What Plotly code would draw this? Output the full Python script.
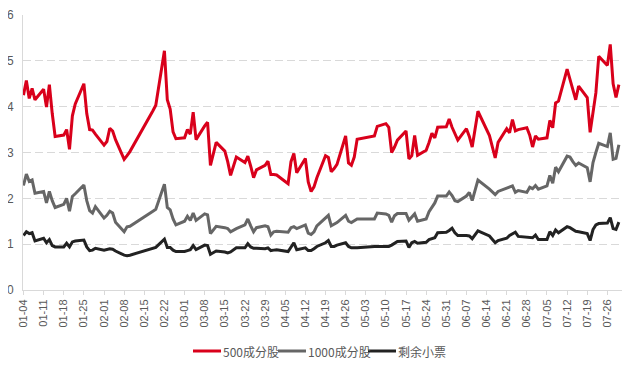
import plotly.graph_objects as go

year = "2021"
dates_md = [
    "01-04","01-05","01-06","01-07","01-08",
    "01-11","01-12","01-13","01-14","01-15",
    "01-18","01-19","01-20","01-21","01-22",
    "01-25","01-26","01-27","01-28","01-29",
    "02-01","02-02","02-03","02-04","02-05",
    "02-08","02-09","02-10","02-18","02-19",
    "02-22","02-23","02-24","02-25","02-26",
    "03-01","03-02","03-03","03-04","03-05",
    "03-08","03-09","03-10","03-11","03-12",
    "03-15","03-16","03-17","03-18","03-19",
    "03-22","03-23","03-24","03-25","03-26",
    "03-29","03-30","03-31","04-01","04-02",
    "04-06","04-07","04-08","04-09",
    "04-12","04-13","04-14","04-15","04-16",
    "04-19","04-20","04-21","04-22","04-23",
    "04-26","04-27","04-28","04-29","04-30",
    "05-06","05-07",
    "05-10","05-11","05-12","05-13","05-14",
    "05-17","05-18","05-19","05-20","05-21",
    "05-24","05-25","05-26","05-27","05-28",
    "05-31","06-01","06-02","06-03","06-04",
    "06-07","06-08","06-09","06-10","06-11",
    "06-15","06-16","06-17","06-18",
    "06-21","06-22","06-23","06-24","06-25",
    "06-28","06-29","06-30","07-01","07-02",
    "07-05","07-06","07-07","07-08","07-09",
    "07-12","07-13","07-14","07-15","07-16",
    "07-19","07-20","07-21","07-22","07-23",
    "07-26","07-27","07-28","07-29","07-30",
]

s500 = [
    4.25,4.57,4.18,4.40,4.15, 4.38,3.99,4.48,3.85,3.35, 3.38,3.50,3.07,3.80,4.06, 4.50,3.85,3.50,3.49,3.40,
    3.16,3.24,3.53,3.47,3.28, 2.85,2.93,3.02,3.91,4.03, 5.22,4.15,3.95,3.45,3.30,
    3.32,3.50,3.40,3.88,3.28, 3.58,3.66,2.72,2.98,3.22, 3.03,2.80,2.50,2.72,2.90, 2.78,2.92,2.70,2.45,2.62, 2.72,2.81,2.52,
    2.52,2.51,
    2.32,2.80,2.98,2.56, 2.87,2.36,2.15,2.25,2.45, 2.93,2.89,2.58,2.65,2.74, 3.36,2.77,2.72,2.90,3.29,
    3.36,3.57, 3.63,3.55,3.00,3.12,3.27, 3.47,2.86,2.93,3.37,2.94, 3.05,3.22,3.42,3.32,3.55, 3.56,
    3.73,3.55,3.40,3.27, 3.52,3.35,3.12,3.50,3.90, 3.37,3.12,2.88,3.22, 3.52,3.43,3.72,3.47,3.50, 3.54,3.38,3.12,
    3.36,3.29, 3.32,3.70,3.54,4.08,4.12, 4.82,4.58,4.35,4.15,4.45, 4.20,3.44,3.85,4.30,5.10, 4.90,5.36,4.50,4.20,4.48,
]

s1000 = [
    2.28,2.53,2.37,2.40,2.11, 2.15,1.90,2.15,1.95,1.80, 1.87,2.00,1.72,2.04,2.10, 2.29,1.95,1.73,1.68,1.82,
    1.57,1.63,1.72,1.68,1.48, 1.27,1.38,1.39,1.72,1.76, 2.31,1.80,1.75,1.55,1.42,
    1.50,1.61,1.52,1.68,1.52, 1.66,1.64,1.23,1.32,1.39, 1.36,1.34,1.27,1.31,1.34, 1.42,1.55,1.40,1.27,1.36, 1.40,1.38,1.20,
    1.27,1.28,
    1.26,1.36,1.38,1.34, 1.42,1.24,1.21,1.27,1.40, 1.56,1.63,1.40,1.43,1.47, 1.63,1.50,1.47,1.52,1.55,
    1.55,1.68, 1.66,1.63,1.48,1.62,1.67, 1.67,1.52,1.58,1.66,1.50, 1.55,1.71,1.80,1.90,2.05, 2.05,
    2.14,2.06,1.95,1.93, 2.05,2.13,1.95,2.15,2.40, 2.20,2.13,2.08,2.15, 2.22,2.25,2.27,2.13,2.17, 2.13,2.24,2.21,
    2.28,2.20, 2.27,2.50,2.33,2.68,2.58, 2.92,2.90,2.80,2.72,2.77, 2.67,2.36,2.78,3.00,3.20, 3.13,3.43,2.85,2.87,3.17,
]

s_rest = [
    1.19,1.27,1.23,1.25,1.07, 1.13,1.03,1.10,0.97,0.94, 0.94,1.02,0.94,1.05,1.07, 1.09,0.94,0.86,0.87,0.91,
    0.87,0.88,0.90,0.89,0.85, 0.76,0.75,0.76,0.90,0.93, 1.11,0.93,0.93,0.87,0.84,
    0.84,0.86,0.88,0.97,0.88, 0.98,0.97,0.78,0.82,0.85, 0.83,0.81,0.83,0.88,0.92, 0.92,1.01,0.94,0.91,0.91, 0.90,0.92,0.86,
    0.87,0.88,
    0.84,0.93,1.03,0.88, 0.92,0.86,0.86,0.90,0.95, 1.03,1.08,0.95,0.95,0.98, 1.03,0.95,0.92,0.92,0.92,
    0.95,0.95, 0.96,0.95,0.98,1.03,1.06, 1.07,0.93,1.03,1.06,1.02, 1.04,1.10,1.12,1.14,1.25, 1.26,
    1.30,1.35,1.25,1.19, 1.19,1.18,1.12,1.22,1.29, 1.18,1.10,1.03,1.08, 1.13,1.19,1.23,1.26,1.17, 1.16,1.15,1.14,
    1.20,1.10, 1.10,1.27,1.19,1.31,1.25, 1.38,1.36,1.32,1.28,1.27, 1.23,1.08,1.32,1.42,1.45, 1.46,1.58,1.34,1.32,1.48,
]

series_names = ["500成分股", "1000成分股", "剩余小票"]
series_colors = ["#D9001B", "#666666", "#222222"]

dates = [f"{year}-{d}" for d in dates_md]

# the page body adds an 8px offset, so the figure is sized to fill the rest
OFF = 8
W, H = 637 - OFF, 370 - OFF
ML, MR, MT, MB = 23 - OFF, 15, 15 - OFF, 80
PW, PH = W - ML - MR, H - MT - MB

fig = go.Figure()
for name, vals, col in zip(series_names, [s500, s1000, s_rest], series_colors):
    fig.add_trace(go.Scatter(x=dates, y=vals, mode="lines", name=name,
                             line=dict(color=col, width=3), showlegend=False))

# compact legend row below the axis (line sample + label); page-pixel positions
def px_x(p):
    return (p - OFF - ML) / PW

def px_y(p):
    return (H - MB - (p - OFF)) / PH

legend_starts = [193, 278, 368]
legend_y = 351
for name, col, x0 in zip(series_names, series_colors, legend_starts):
    fig.add_shape(type="line", xref="paper", yref="paper",
                  x0=px_x(x0), x1=px_x(x0 + 28), y0=px_y(legend_y), y1=px_y(legend_y),
                  line=dict(color=col, width=3))
    fig.add_annotation(xref="paper", yref="paper", x=px_x(x0 + 28), y=px_y(legend_y),
                       text=name, showarrow=False, xanchor="left", yanchor="middle",
                       font=dict(size=12, color="#595959",
                                 family="Noto Sans CJK SC, sans-serif"))

fig.update_layout(
    width=W, height=H,
    margin=dict(l=ML, r=MR, t=MT, b=MB, autoexpand=False),
    paper_bgcolor="white", plot_bgcolor="white",
    font=dict(family="Liberation Sans, Noto Sans CJK SC, sans-serif", color="#595959", size=12),
    showlegend=False,
)

fig.update_xaxes(
    type="date",
    range=["2021-01-03 20:00", "2021-07-31 02:00"],
    tick0="2021-01-04", dtick=7 * 86400000,
    tickformat="%m-%d", tickangle=-90,
    tickfont=dict(size=11, color="#595959"),
    showgrid=False, showline=True, linecolor="#D9D9D9", linewidth=1,
    ticks="outside", ticklen=4, tickcolor="#D9D9D9",
    zeroline=False, automargin=False,
)
fig.update_yaxes(
    range=[0, 6], dtick=1,
    tickfont=dict(size=12, color="#595959"),
    showgrid=True, gridcolor="#D9D9D9", griddash="8px,4px", gridwidth=1,
    showline=True, linecolor="#D9D9D9", linewidth=1,
    zeroline=False, ticks="", ticklabelstandoff=6, automargin=False,
)

fig.write_html("out.html")
